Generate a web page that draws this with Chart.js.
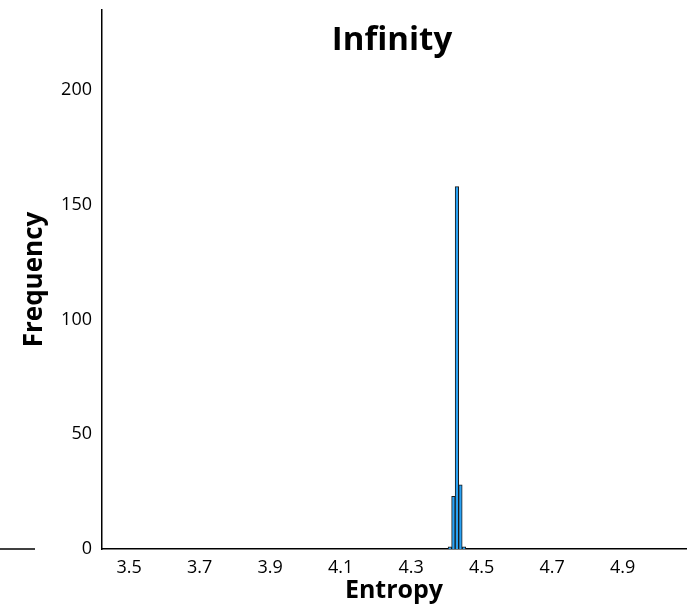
<!DOCTYPE html>
<html>
<head>
<meta charset="utf-8">
<script src="https://cdn.jsdelivr.net/npm/chart.js@4"></script>
<style>
  html, body { margin: 0; padding: 0; background: #fff; }
  #wrap { width: 690px; height: 610px; position: relative; }
</style>
</head>
<body>
<div id="wrap"><canvas id="entropyChart"></canvas></div>
<script>
// histogram bins (bin centres) and counts
const binCentres = [4.41, 4.42, 4.43, 4.44, 4.45];
const binCounts = [1, 23, 158, 28, 1];
const xTicks = [3.5, 3.7, 3.9, 4.1, 4.3, 4.5, 4.7, 4.9];
const yTicks = [0, 50, 100, 150, 200];

const chartTitle = 'Infinity';
const xTitle = 'Entropy';
const yTitle = 'Frequency';

const fontName = "'Open Sans', sans-serif";

// title is drawn inside the plot, over the axes, like the original
const titlePlugin = {
  id: 'insideTitle',
  afterDraw(chart) {
    const ctx = chart.ctx;
    const area = chart.chartArea;
    ctx.save();
    ctx.fillStyle = '#000';
    ctx.font = "bold 33px " + fontName;
    ctx.textAlign = 'center';
    ctx.textBaseline = 'middle';
    ctx.fillText(chartTitle, (area.left + area.right) / 2 - 2, area.top + 31);
    // stray bit of baseline on the far left
    ctx.strokeStyle = '#000';
    ctx.lineWidth = 1.5;
    ctx.beginPath();
    ctx.moveTo(0, area.bottom);
    ctx.lineTo(35, area.bottom);
    ctx.stroke();
    ctx.restore();
  }
};

const ctx = document.getElementById('entropyChart').getContext('2d');
new Chart(ctx, {
  type: 'bar',
  data: {
    datasets: [{
      label: 'Frequency',
      data: binCentres.map((x, i) => ({ x: x, y: binCounts[i] })),
      backgroundColor: '#2aa2f4',
      borderColor: '#1a1a1a',
      borderWidth: 1,
      barPercentage: 1,
      categoryPercentage: 1
    }]
  },
  options: {
    responsive: true,
    maintainAspectRatio: false,
    animation: false,
    layout: { padding: { top: 10, right: 4, left: 10, bottom: 0 } },
    scales: {
      x: {
        type: 'linear',
        offset: false,
        min: 3.423,
        max: 5.08,
        afterBuildTicks: axis => { axis.ticks = xTicks.map(v => ({ value: v })); },
        afterFit: axis => { axis.height = 61; axis.paddingLeft = 0; axis.paddingRight = 0; },
        grid: { display: false },
        border: { display: true, color: '#000', width: 1.5 },
        ticks: {
          color: '#000',
          padding: 0,
          maxRotation: 0,
          font: { family: fontName, size: 18 },
          callback: v => v.toFixed(1)
        },
        title: {
          display: true,
          text: xTitle,
          color: '#000',
          font: { family: fontName, size: 25, weight: 'bold' },
          padding: { top: 0, bottom: 4 }
        }
      },
      y: {
        min: 0,
        max: 235,
        afterBuildTicks: axis => { axis.ticks = yTicks.map(v => ({ value: v })); },
        afterFit: axis => { axis.width = 92; axis.paddingTop = 0; axis.paddingBottom = 0; },
        grid: { display: false },
        border: { display: true, color: '#000', width: 1.5 },
        ticks: {
          color: '#000',
          padding: 2,
          font: { family: fontName, size: 18 }
        },
        title: {
          display: true,
          text: yTitle,
          color: '#000',
          font: { family: fontName, size: 26, weight: 'bold' },
          padding: { top: 9, bottom: 0 }
        }
      }
    },
    plugins: {
      legend: { display: false },
      tooltip: { enabled: false }
    }
  },
  plugins: [titlePlugin]
});
</script>
</body>
</html>
